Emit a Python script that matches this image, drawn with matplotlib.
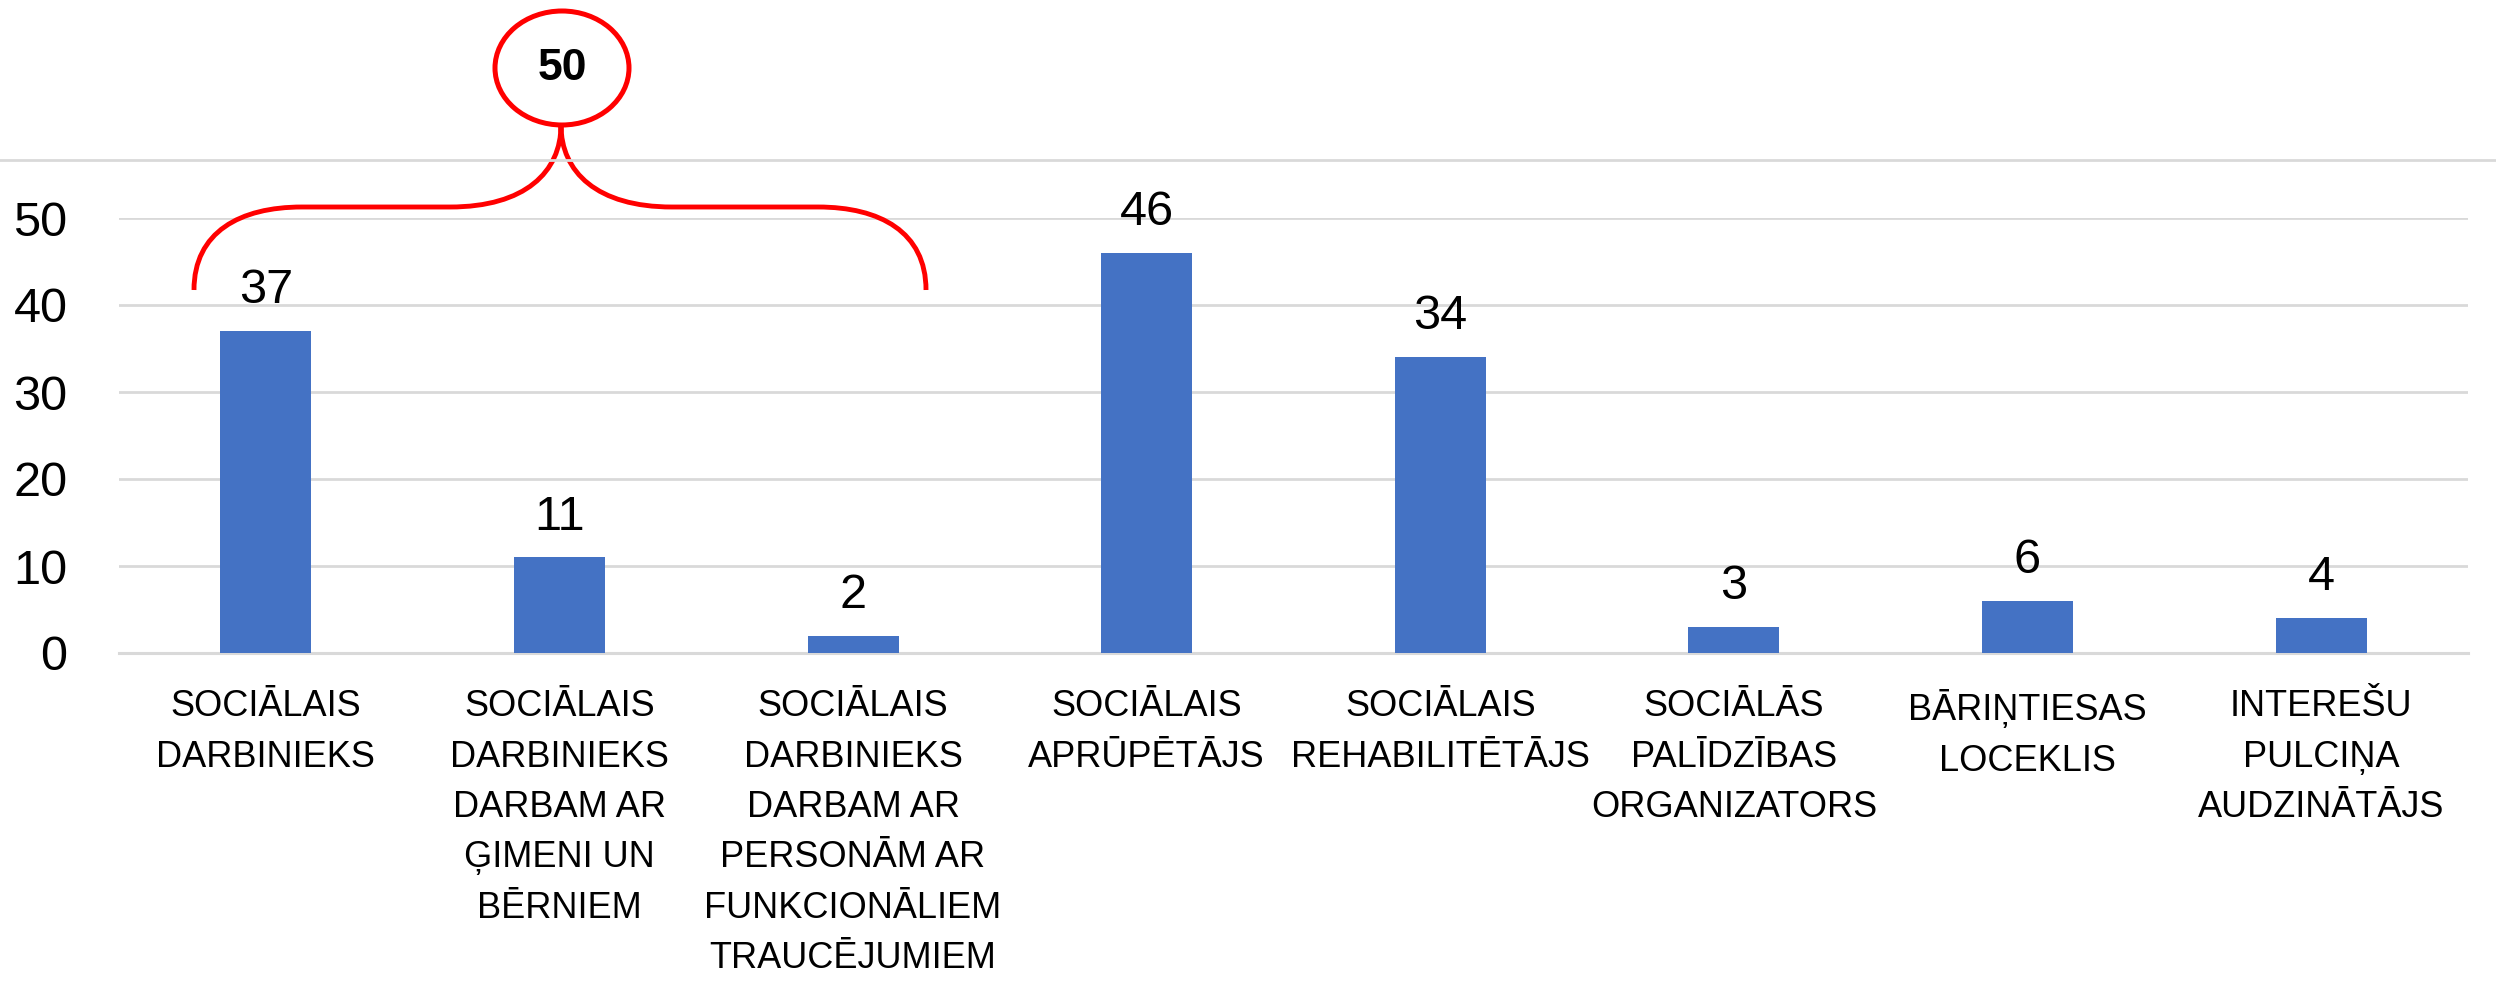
#!/usr/bin/env python3
"""Bar chart: social work specialists by position."""
import matplotlib
matplotlib.use("Agg")
import matplotlib.pyplot as plt
from matplotlib.patches import Ellipse, PathPatch
from matplotlib.path import Path
from matplotlib.lines import Line2D

plt.rcParams.update({
    "font.family": ["Liberation Sans", "DejaVu Sans"],
})

categories = [
    "SOCIĀLAIS\nDARBINIEKS",
    "SOCIĀLAIS\nDARBINIEKS\nDARBAM AR\nĢIMENI UN\nBĒRNIEM",
    "SOCIĀLAIS\nDARBINIEKS\nDARBAM AR\nPERSONĀM AR\nFUNKCIONĀLIEM\nTRAUCĒJUMIEM",
    "SOCIĀLAIS\nAPRŪPĒTĀJS",
    "SOCIĀLAIS\nREHABILITĒTĀJS",
    "SOCIĀLĀS\nPALĪDZĪBAS\nORGANIZATORS",
    "BĀRIŅTIESAS\nLOCEKLIS",
    "INTEREŠU\nPULCIŅA\nAUDZINĀTĀJS",
]
values = [37, 11, 2, 46, 34, 3, 6, 4]
y_ticks = [0, 10, 20, 30, 40, 50]
grouped = 3  # first three bars summed in the circle

BLUE = "#4472C4"
GRID = "#D9D9D9"
RED = "#FF0000"
W, H = 2496, 998

fig = plt.figure(figsize=(W / 100, H / 100), dpi=100)
ax = fig.add_axes([119 / W, 1 - 653 / H, (2468 - 119) / W, (653 - 218) / H])

x = range(len(categories))
bars = ax.bar(x, values, width=0.31, color=BLUE, zorder=3)
for rect, v in zip(bars, values):
    ax.annotate(str(v), xy=(rect.get_x() + rect.get_width() / 2, v),
                xytext=(0, 20), textcoords="offset points",
                ha="center", va="baseline", fontsize=35)

ax.set_xlim(-0.5, len(categories) - 0.5)
ax.set_ylim(0, 50)
ax.set_yticks(y_ticks)
ax.set_xticks(list(x))
ax.set_xticklabels(categories, fontsize=26, linespacing=1.57)
ax.tick_params(axis="y", length=0, labelsize=35, pad=37)
ax.tick_params(axis="x", length=0, pad=26)
ax.grid(axis="y", color=GRID, lw=2, zorder=0)
for side in ["top", "right", "left"]:
    ax.spines[side].set_visible(False)
ax.spines["bottom"].set_color(GRID)
ax.spines["bottom"].set_linewidth(2.2)


def fx(px):
    return px / W


def fy(py):
    return 1 - py / H


# light rule across the whole figure
fig.add_artist(Line2D([0, 1], [fy(160), fy(160)], color=GRID, lw=2))

# brace over the first three bars
pts = [(194, 290), (194, 232), (240, 207), (302, 207),
       (450, 207),
       (525, 207), (561, 172), (561, 125),
       (561, 172), (597, 207), (672, 207),
       (818, 207),
       (880, 207), (926, 232), (926, 290)]
codes = [Path.MOVETO, Path.CURVE4, Path.CURVE4, Path.CURVE4,
         Path.LINETO,
         Path.CURVE4, Path.CURVE4, Path.CURVE4,
         Path.CURVE4, Path.CURVE4, Path.CURVE4,
         Path.LINETO,
         Path.CURVE4, Path.CURVE4, Path.CURVE4]
brace = Path([(fx(a), fy(b)) for a, b in pts], codes)
fig.add_artist(PathPatch(brace, fill=False, edgecolor=RED, lw=3.5,
                         transform=fig.transFigure))
fig.add_artist(Ellipse((fx(562), fy(68)), 134 / W, 114 / H, fill=False,
                       edgecolor=RED, lw=3.6, transform=fig.transFigure))
fig.text(fx(562), fy(68), str(sum(values[:grouped])), ha="center",
         va="center", fontsize=32, fontweight="bold")

fig.savefig("out.png", dpi=100)
